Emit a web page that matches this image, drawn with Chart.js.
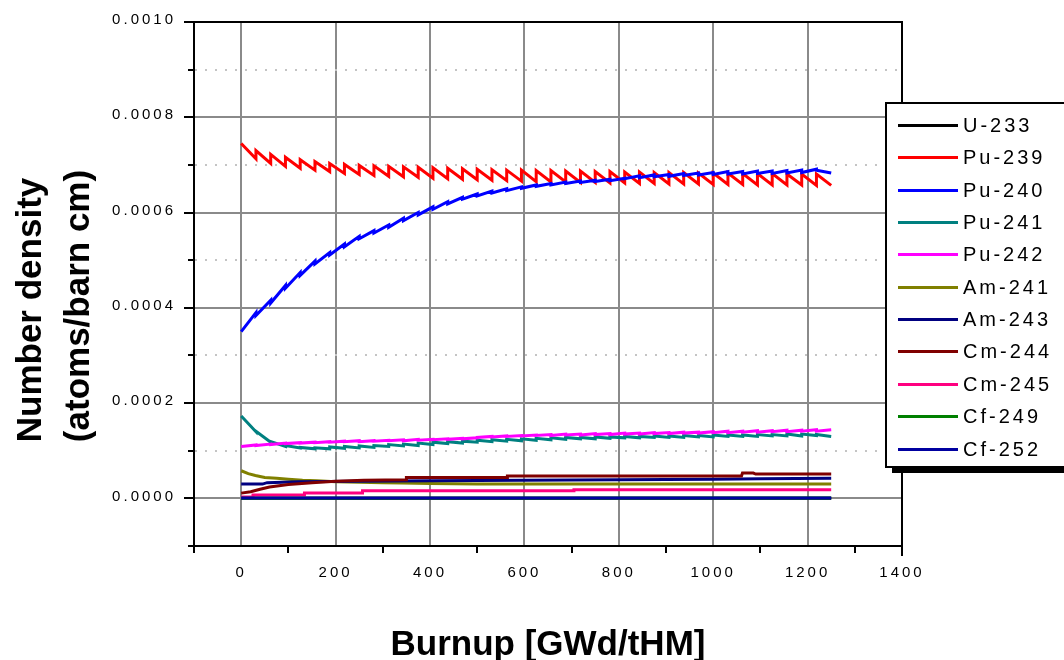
<!DOCTYPE html>
<html>
<head>
<meta charset="utf-8">
<script src="https://cdn.jsdelivr.net/npm/chart.js@4.4.1/dist/chart.umd.min.js"></script>
<style>
  html, body { margin: 0; padding: 0; background: #fff; }
  #wrap { width: 1064px; height: 660px; }
</style>
</head>
<body>
<div id="wrap"><canvas id="chart" width="1064" height="660"></canvas></div>
<script>
// number densities are written in units of 1e-6 atoms/barn cm
const UNIT = 1e-6;

// cycle boundaries [GWd/tHM]
const burnup = [0, 31.25, 62.5, 93.75, 125, 156.25, 187.5, 218.75, 250, 281.25, 312.5,
  343.75, 375, 406.25, 437.5, 468.75, 500, 531.25, 562.5, 593.75, 625, 656.25, 687.5,
  718.75, 750, 781.25, 812.5, 843.75, 875, 906.25, 937.5, 968.75, 1000, 1031.25, 1062.5,
  1093.75, 1125, 1156.25, 1187.5, 1218.75, 1250];

// start / end of each cycle
const pu239Start = [745,730,722,716,711,707,703,701,699,698,697,696,695,694,693,692,691,690,689,689,
  688,688,687,687,686,686,685,685,684,684,684,683,683,683,682,682,682,681,681,681];
const pu239End = [713,703,697,693,689,686,682,680,678,676,675,674,672,671,670,669,668,667,666,665,
  664,664,663,663,662,662,661,661,660,660,660,659,659,659,658,658,658,658,657,657];

const pu240Start = [350,384,410,441,468,492,511,528,545,557,569,583,595,607,618,628,635,641,646,651,
  655,658,661,663,665,667,671,673,675,676,678,679,680,681,681,682,682,683,684,689];
const pu240End = [390,416,447,474,498,516,534,550,562,574,588,600,612,623,632,639,645,650,654,658,
  661,664,666,668,670,672,677,679,680,682,683,684,686,686,687,687,688,689,691,683];

const pu241Start = [173,141,119,111,107,106,108,109,110,111,113,114,116,118,119,120,122,123,124,125,
  126,127,128,128,129,129,130,130,131,131,132,132,133,133,133,134,134,135,135,134];
const pu241End = [140,118,109,106,104,104,105,106,107,109,110,111,113,115,116,118,119,120,121,122,
  123,124,125,125,126,127,127,128,128,128,129,129,130,130,130,131,131,131,132,130];

const pu242Start = [109,111,113,115,116,117,118,119,119,120,121,121,122,123,124,125,128,129,130,131,
  132,132,133,133,134,134,135,135,136,136,137,137,138,138,139,139,140,140,141,141];
const pu242End = [112,114,116,117,118,119,120,121,121,122,123,124,124,125,126,127,130,131,132,133,
  134,135,135,136,136,137,137,138,138,139,139,140,141,141,142,142,143,143,144,144];

// minor nuclides: burnup / density pairs
const am241Bu = [0, 15, 30, 50, 75, 100, 130, 160, 200, 250, 300, 340, 400, 500, 1250];
const am241N  = [58, 52, 48, 44, 42, 40, 38, 37, 35, 34, 33, 32, 31, 30, 30];
const am243Bu = [0, 45, 55, 120, 250, 400, 600, 800, 1000, 1100, 1250];
const am243N  = [30, 30, 33, 35, 36, 37, 38, 39, 40, 41, 42];
const cm244Bu = [0, 20, 40, 60, 100, 150, 200, 260, 350, 350, 564, 564, 1060, 1062, 1085, 1090, 1250];
const cm244N  = [11, 14, 19, 24, 29, 33, 36, 38, 39, 44, 44, 47, 47, 53, 53, 51, 51];
const cm245Bu = [0, 25, 25, 134, 134, 257, 257, 705, 705, 1250];
const cm245N  = [3, 3, 7, 7, 11, 11, 16, 16, 18, 18];
const cf249Bu = [0, 1250];
const cf249N  = [0.4, 0.6];
const cf252Bu = [0, 1250];
const cf252N  = [1, 1];
const u233Bu = [0, 1250];
const u233N  = [0.2, 0.2];

const labels = ['U-233', 'Pu-239', 'Pu-240', 'Pu-241', 'Pu-242', 'Am-241', 'Am-243',
  'Cm-244', 'Cm-245', 'Cf-249', 'Cf-252'];
const colors = ['#000000', '#ff0000', '#0000ff', '#008080', '#ff00ff', '#808000', '#000080',
  '#800000', '#ff0080', '#008000', '#0000a0'];

const xTitle = 'Burnup [GWd/tHM]';
const yTitle = ['Number density', '(atoms/barn cm)'];

function cyclePoints(start, end) {
  const pts = [];
  for (let k = 0; k < start.length; k++) {
    pts.push({ x: burnup[k], y: start[k] * UNIT });
    pts.push({ x: burnup[k + 1], y: end[k] * UNIT });
  }
  return pts;
}

function pairPoints(bu, n) {
  return bu.map((b, i) => ({ x: b, y: n[i] * UNIT }));
}

const series = [
  pairPoints(u233Bu, u233N),
  cyclePoints(pu239Start, pu239End),
  cyclePoints(pu240Start, pu240End),
  cyclePoints(pu241Start, pu241End),
  cyclePoints(pu242Start, pu242End),
  pairPoints(am241Bu, am241N),
  pairPoints(am243Bu, am243N),
  pairPoints(cm244Bu, cm244N),
  pairPoints(cm245Bu, cm245N),
  pairPoints(cf249Bu, cf249N),
  pairPoints(cf252Bu, cf252N)
];

const FONT = '"Liberation Sans", Arial, sans-serif';

function isMajorX(v) { return v >= 0 && Math.round(v) % 200 === 0; }
function isMajorY(v) { const n = Math.round(v * 10000); return n >= 0 && n % 2 === 0; }

// wide letter spacing for the tick labels only
const tickSpacing = {
  id: 'tickSpacing',
  beforeDraw(chart) { chart.ctx.letterSpacing = '3px'; },
  beforeDatasetsDraw(chart) { chart.ctx.letterSpacing = '0px'; }
};

// box frame, tick marks, axis titles and the legend
const decorations = {
  id: 'decorations',
  afterDraw(chart) {
    const ctx = chart.ctx;
    const a = chart.chartArea;
    const x = chart.scales.x, y = chart.scales.y;
    ctx.save();
    ctx.letterSpacing = '0px';
    ctx.strokeStyle = '#000';
    ctx.lineWidth = 2;
    ctx.beginPath();
    ctx.moveTo(a.left - 1, a.top);
    ctx.lineTo(a.right, a.top);
    ctx.lineTo(a.right, a.bottom + 10);
    y.ticks.forEach(t => {
      const py = Math.round(y.getPixelForValue(t.value));
      ctx.moveTo(a.left, py);
      ctx.lineTo(a.left - (isMajorY(t.value) ? 10 : 6), py);
    });
    x.ticks.forEach(t => {
      if (isMajorX(t.value)) return;
      const px = Math.round(x.getPixelForValue(t.value));
      ctx.moveTo(px, a.bottom);
      ctx.lineTo(px, a.bottom + 7);
    });
    ctx.stroke();

    // axis titles
    ctx.fillStyle = '#000';
    ctx.font = 'bold 35px ' + FONT;
    ctx.textAlign = 'center';
    ctx.textBaseline = 'alphabetic';
    ctx.fillText(xTitle, 548, 655);
    ctx.save();
    ctx.translate(41, 310);
    ctx.rotate(-Math.PI / 2);
    ctx.fillText(yTitle[0], 0, 0);
    ctx.restore();
    ctx.save();
    ctx.translate(89, 306);
    ctx.rotate(-Math.PI / 2);
    ctx.fillText(yTitle[1], 0, 0);
    ctx.restore();

    // legend box with drop shadow
    const lx = 886, ly = 103, lw = 220, lh = 364;
    ctx.fillStyle = '#000';
    ctx.fillRect(lx + 6, ly + 6, lw, lh);
    ctx.fillStyle = '#fff';
    ctx.fillRect(lx, ly, lw, lh);
    ctx.strokeRect(lx, ly, lw, lh);
    ctx.font = '20px ' + FONT;
    ctx.letterSpacing = '3px';
    ctx.textAlign = 'left';
    ctx.textBaseline = 'middle';
    chart.data.datasets.forEach((ds, i) => {
      const yy = Math.round(125 + i * 32.35) + 0.5;
      ctx.strokeStyle = ds.borderColor;
      ctx.lineWidth = 3;
      ctx.beginPath();
      ctx.moveTo(898, yy);
      ctx.lineTo(958, yy);
      ctx.stroke();
      ctx.fillStyle = '#000';
      ctx.fillText(ds.label, 963, yy + 1);
    });
    ctx.restore();
  }
};

new Chart(document.getElementById('chart'), {
  type: 'line',
  data: {
    datasets: series.map((pts, i) => ({
      label: labels[i],
      data: pts,
      borderColor: colors[i],
      backgroundColor: colors[i],
      borderWidth: 3,
      pointRadius: 0,
      tension: 0,
      fill: false,
      order: labels.length - i
    }))
  },
  options: {
    responsive: false,
    animation: false,
    layout: { padding: { left: 0, top: 22, right: 162, bottom: 0 } },
    plugins: { legend: { display: false }, tooltip: { enabled: false } },
    elements: { line: { borderJoinStyle: 'miter', borderCapStyle: 'butt' } },
    scales: {
      x: {
        type: 'linear',
        min: -100,
        max: 1400,
        afterFit: s => { s.height = 114; s.paddingLeft = 0; s.paddingRight = 0; },
        ticks: {
          stepSize: 100,
          autoSkip: false,
          maxRotation: 0,
          padding: 18,
          color: '#000',
          font: { family: FONT, size: 15 },
          callback: v => isMajorX(v) ? String(v) : ''
        },
        grid: {
          drawTicks: false,
          lineWidth: 2,
          color: c => (c.tick && isMajorX(c.tick.value)) ? '#8a8a8a' : 'rgba(0,0,0,0)'
        },
        border: { color: '#000', width: 2 }
      },
      y: {
        type: 'linear',
        min: -0.0001,
        max: 0.001,
        afterFit: s => { s.width = 194; s.paddingTop = 0; s.paddingBottom = 0; },
        ticks: {
          stepSize: 0.0001,
          autoSkip: false,
          padding: 18,
          labelOffset: -2,
          color: '#000',
          font: { family: FONT, size: 15 },
          callback: v => isMajorY(v) ? (Math.round(v * 10000) / 10000).toFixed(4) : ''
        },
        grid: {
          drawTicks: false,
          lineWidth: 2,
          color: c => {
            if (!c.tick || c.tick.value < 0) return 'rgba(0,0,0,0)';
            return isMajorY(c.tick.value) ? '#8a8a8a' : '#c4c4c4';
          }
        },
        border: {
          color: '#000',
          width: 2,
          dash: c => (c.tick && !isMajorY(c.tick.value)) ? [2, 8] : []
        }
      }
    }
  },
  plugins: [tickSpacing, decorations]
});
</script>
</body>
</html>
